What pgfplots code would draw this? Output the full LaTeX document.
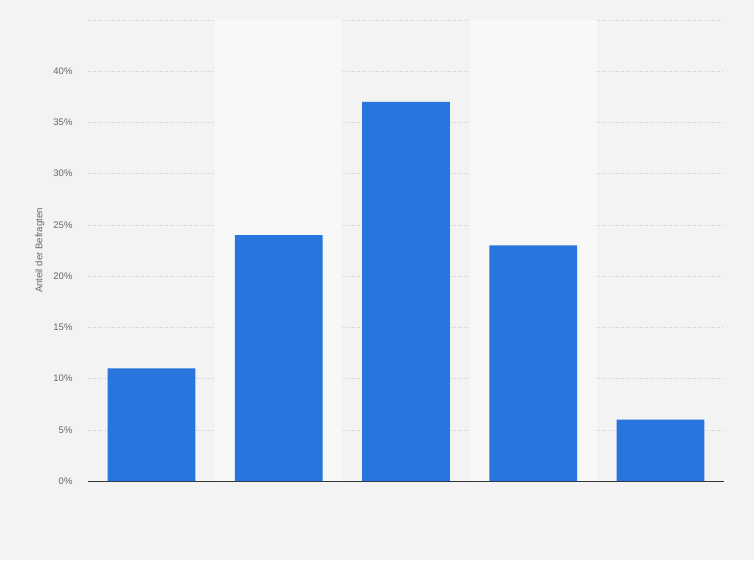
\documentclass[border=0pt]{standalone}
\usepackage{fontspec}
\setmainfont{Liberation Sans}
\usepackage{pgfplots}
\pgfplotsset{compat=1.18}
\definecolor{bg}{HTML}{F3F3F3}
\definecolor{band}{HTML}{F8F8F8}
\definecolor{barblue}{HTML}{2876DD}
\definecolor{gridc}{HTML}{CCCCCC}
\definecolor{labc}{HTML}{666666}
\begin{document}
\begin{tikzpicture}[x=1pt,y=1pt]
\fill[bg] (-88,-79) rectangle (666,481);
\useasboundingbox (-88,-79) rectangle (666,481);
\begin{axis}[
  at={(0,0)}, anchor=south west,
  scale only axis,
  width=636pt, height=461pt,
  xmin=-0.5, xmax=4.5,
  ymin=0, ymax=45,
  axis x line*=bottom,
  axis y line*=left,
  x axis line style={draw=black!80, line width=0.8pt, -},
  y axis line style={draw=none},
  xtick=\empty,
  ytick={0,5,...,45},
  yticklabels={0\%,5\%,10\%,15\%,20\%,25\%,30\%,35\%,40\%,},
  ymajorgrids,
  grid style={gridc, dotted, line width=0.5pt},
  major tick length=0pt,
  /pgf/number format/assume math mode=true,
  yticklabel style={font=\fontsize{9.5}{11}\selectfont, text=labc, xshift=-12pt},
  ylabel={Anteil der Befragten},
  every axis y label/.style={at={(rel axis cs:0,0.5)}, rotate=90, anchor=center,
    yshift=48pt, font=\fontsize{9.6}{11}\selectfont, text=labc},
  ybar, bar width=0.69,
  clip=false,
]
\fill[band] (axis cs:0.5,0) rectangle (axis cs:1.5,45);
\fill[band] (axis cs:2.5,0) rectangle (axis cs:3.5,45);
\addplot[fill=barblue, draw=none] coordinates {(0,11) (1,24) (2,37) (3,23) (4,6)};
\end{axis}
\end{tikzpicture}
\end{document}
